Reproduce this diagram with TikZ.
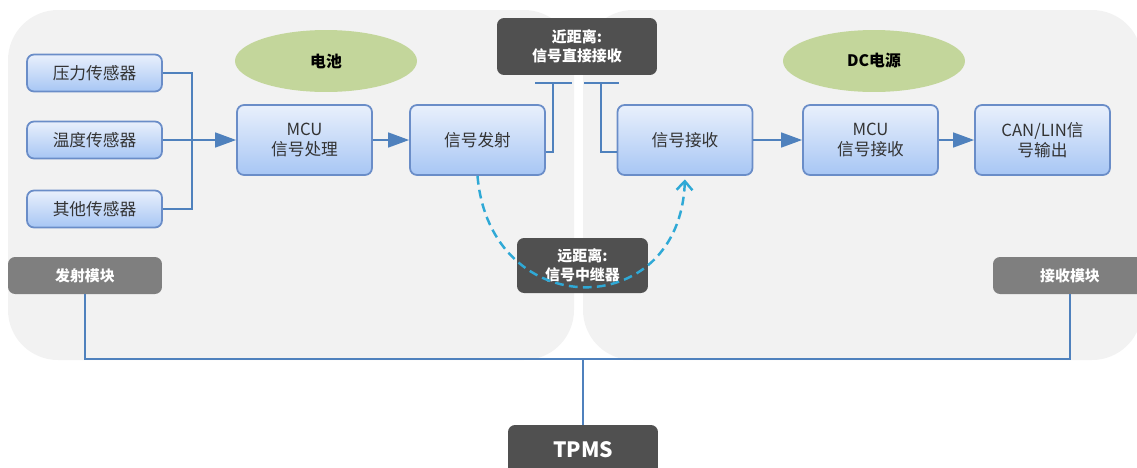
\documentclass[tikz,border=0pt]{standalone}
\usepackage{fontspec}
\setmainfont{Noto Sans CJK SC}
\usetikzlibrary{arrows.meta,positioning,shapes.geometric}

\definecolor{panelgray}{HTML}{F2F2F2}
\definecolor{linkblue}{HTML}{4F81BD}
\definecolor{boxtop}{HTML}{E9F0FC}
\definecolor{boxbot}{HTML}{A7C6F4}
\definecolor{boxline}{HTML}{6A8DC8}
\definecolor{darkbox}{HTML}{505050}
\definecolor{modgray}{HTML}{7F7F7F}
\definecolor{powergreen}{HTML}{C3D69B}
\definecolor{wavecyan}{HTML}{2FA9D6}

\tikzset{
  blockbox/.style={draw=boxline, line width=1pt, rounded corners=4pt, top color=boxtop, bottom color=boxbot,
    minimum width=2.7cm, minimum height=1.4cm, align=center, text=black!80, font=\fontsize{9.5}{11.5}\selectfont},
  sensorbox/.style={blockbox, minimum height=0.74cm},
  powerellipse/.style={ellipse, fill=powergreen, minimum width=3.64cm, minimum height=1.24cm, font=\bfseries\fontsize{9}{11}\selectfont},
  labelbox/.style={fill=darkbox, rounded corners=4pt, text=white, align=center, font=\bfseries\fontsize{8.5}{11}\selectfont},
  modbox/.style={fill=modgray, rounded corners=4pt, text=white, minimum width=3.08cm, minimum height=0.74cm, font=\bfseries\fontsize{8.5}{10}\selectfont},
  link/.style={draw=linkblue, line width=1.1pt},
  linkarrow/.style={link, -{Triangle[length=12pt,width=8.5pt]}},
  wave/.style={draw=wavecyan, line width=1.4pt, dash pattern=on 5pt off 3pt, -{Straight Barb[length=5pt,width=9pt]}},
}

\begin{document}
\begin{tikzpicture}[x=0.02cm,y=-0.02cm]
    \useasboundingbox (0,0) rectangle (1137,467);
    % two halves
    \fill[panelgray, rounded corners=1cm] (8,10) rectangle (574,360);
    \fill[panelgray, rounded corners=1cm] (583,10) rectangle (1142,360);

    \node[sensorbox] (press) at (94.5,73) {压力传感器};
    \node[sensorbox] (temp) at (94.5,140) {温度传感器};
    \node[sensorbox] (other) at (94.5,209) {其他传感器};
    \node[blockbox] (mcuA) at (304.5,140) {MCU\\信号处理};
    \node[blockbox] (send) at (477.5,140) {信号发射};
    \node[blockbox] (recv) at (685,140) {信号接收};
    \node[blockbox] (mcuB) at (870.5,140) {MCU\\信号接收};
    \node[blockbox] (canout) at (1042.5,140) {CAN/LIN信\\号输出};

    \node[powerellipse] (battery) at (326,61) {电池};
    \node[powerellipse] (dcsrc) at (874,61) {DC电源};

    \node[labelbox, minimum width=3.2cm, minimum height=1.14cm] (near) at (577,46.5) {近距离:\\信号直接接收};
    \node[labelbox, minimum width=2.62cm, minimum height=1.1cm] (far) at (582.5,265.5) {远距离:\\信号中继器};

    \node[modbox] (sendmod) at (85,275.5) {发射模块};
    \node[modbox] (recvmod) at (1070,275.5) {接收模块};
    \node[fill=darkbox, rounded corners=4pt, text=white, minimum width=3cm, minimum height=1cm,
      font=\bfseries\fontsize{12}{14}\selectfont] (tpms) at (583,450) {TPMS};

    \coordinate (join) at (192,140);
    \coordinate (antA) at (553,83);
    \coordinate (antB) at (601,83);
    \coordinate (bus) at (583,359);

    \draw[link] (press.east) -| (join);
    \draw[link] (other.east) -| (join);
    \draw[linkarrow] (temp) -- (mcuA);
    \draw[linkarrow] (mcuA) -- (send);
    \draw[linkarrow] (recv) -- (mcuB);
    \draw[linkarrow] (mcuB) -- (canout);

    % antennas
    \draw[link] ([yshift=-0.24cm]send.east) -| (antA);
    \draw[link] ([xshift=-0.36cm]antA) -- ([xshift=0.38cm]antA);
    \draw[link] ([yshift=-0.24cm]recv.west) -| (antB);
    \draw[link] ([xshift=-0.34cm]antB) -- ([xshift=0.36cm]antB);

    \draw[wave, shorten >=2pt] (send.south) .. controls +(0.25cm,-2.95cm) and +(-0.1cm,-2.95cm) .. (recv.south);

    \draw[link] (sendmod.south) |- (bus) -| (recvmod.south);
    \draw[link] (bus) -- (tpms.north);
\end{tikzpicture}
\end{document}
